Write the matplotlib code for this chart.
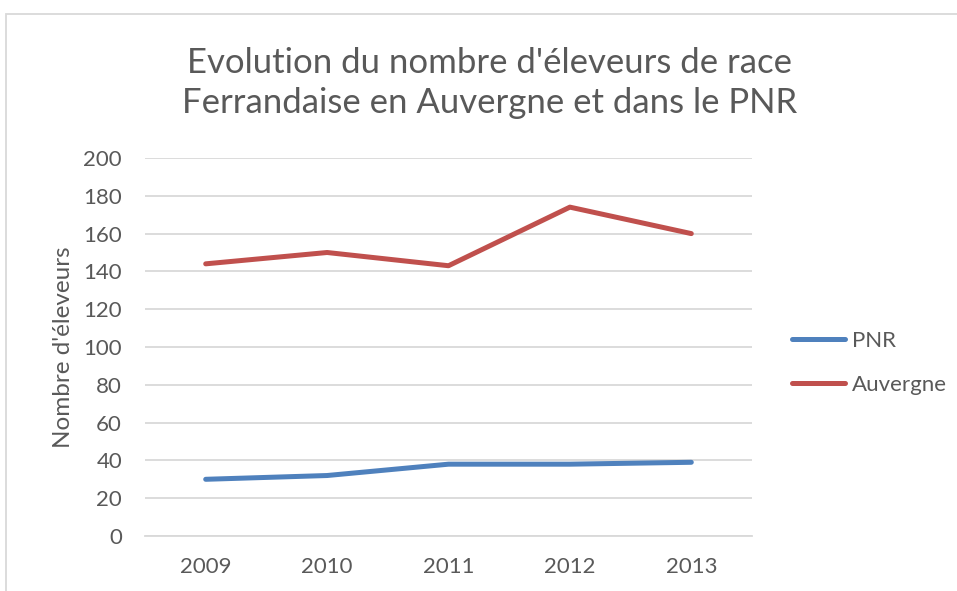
import matplotlib as mpl
mpl.use('Agg')
import matplotlib.pyplot as plt
from matplotlib.patches import Rectangle

plt.rcParams['font.family'] = ['Lato', 'DejaVu Sans']

years = ['2009', '2010', '2011', '2012', '2013']
pnr = [30, 32, 38, 38, 39]
auvergne = [144, 150, 143, 174, 160]

grey = '#595959'
grid = '#D9D9D9'

fig = plt.figure(figsize=(9.57, 5.91), dpi=100)
ax = fig.add_axes([145 / 957, 55 / 591, 607 / 957, 378 / 591])

x = range(len(years))
ax.plot(x, pnr, color='#4F81BD', lw=3.6, solid_capstyle='round', label='PNR')
ax.plot(x, auvergne, color='#C0504D', lw=3.6, solid_capstyle='round', label='Auvergne')

ax.set_xlim(-0.5, 4.5)
ax.set_ylim(0, 200)
ax.set_yticks(range(0, 201, 20))
ax.set_xticks(list(x))
ax.set_xticklabels(years)
ax.yaxis.grid(True, color=grid, lw=1.3)
ax.set_axisbelow(True)
for s in ['top', 'right', 'left']:
    ax.spines[s].set_visible(False)
ax.spines['bottom'].set_color(grid)
ax.spines['bottom'].set_linewidth(1.3)
ax.tick_params(length=0, colors=grey, labelsize=16)
ax.tick_params(axis='x', pad=15)
ax.tick_params(axis='y', pad=16.5)
ax.set_ylabel("Nombre d'éleveurs", color=grey, fontsize=17.5, labelpad=7)

fig.text(0.512, 0.86, "Evolution du nombre d'éleveurs de race\nFerrandaise en Auvergne et dans le PNR",
         ha='center', va='center', fontsize=25, color=grey, linespacing=1.3)

leg = fig.legend(loc='center left', bbox_to_anchor=(772 / 957, 1 - 363 / 591), frameon=False,
                 fontsize=16, labelcolor=grey, handlelength=2.4, handletextpad=0.3,
                 labelspacing=1.1)

# chart frame
fig.patches.append(Rectangle((5.5 / 957, -0.1), 1.2, 1 - 13.5 / 591 + 0.1,
                             transform=fig.transFigure, fill=False, ec=grid, lw=1.3))

fig.savefig('out.png', dpi=100)
